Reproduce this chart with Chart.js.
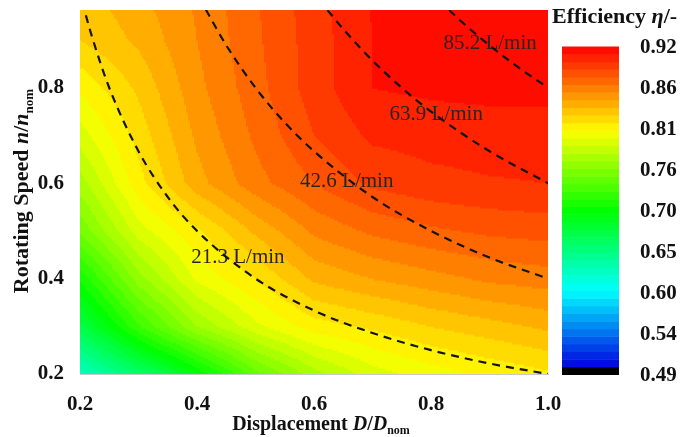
<!DOCTYPE html>
<html>
<head>
<meta charset="utf-8">
<script src="https://cdn.jsdelivr.net/npm/chart.js@4"></script>
<style>
  html, body { margin: 0; padding: 0; background: #fff; }
  #wrap { width: 684px; height: 437px; }
</style>
</head>
<body>
<div id="wrap"><canvas id="effChart" width="684" height="437"></canvas></div>
<script>
// grid axes (displacement D/Dnom, speed n/nnom)
const dispGrid = [0.2, 0.3, 0.4, 0.5, 0.6, 0.7, 0.8, 0.9, 1.0];
const speedGrid = [0.2, 0.3, 0.4, 0.5, 0.6, 0.7, 0.8, 0.9, 1.0];

// efficiency, one row per speed
const effN20 = [0.625, 0.660, 0.700, 0.745, 0.775, 0.795, 0.805, 0.812, 0.818];
const effN30 = [0.675, 0.728, 0.770, 0.797, 0.815, 0.822, 0.830, 0.836, 0.842];
const effN40 = [0.712, 0.765, 0.802, 0.820, 0.842, 0.850, 0.856, 0.862, 0.865];
const effN50 = [0.752, 0.795, 0.818, 0.842, 0.862, 0.872, 0.878, 0.882, 0.884];
const effN60 = [0.775, 0.816, 0.846, 0.866, 0.880, 0.892, 0.897, 0.899, 0.900];
const effN70 = [0.795, 0.824, 0.852, 0.872, 0.890, 0.902, 0.904, 0.905, 0.905];
const effN80 = [0.812, 0.832, 0.857, 0.876, 0.895, 0.910, 0.912, 0.913, 0.913];
const effN90 = [0.830, 0.842, 0.860, 0.878, 0.895, 0.910, 0.916, 0.919, 0.920];
const effN100 = [0.836, 0.848, 0.862, 0.879, 0.896, 0.911, 0.918, 0.920, 0.920];
const effRows = [effN20, effN30, effN40, effN50, effN60, effN70, effN80, effN90, effN100];

// constant flow lines (dashed)
const flow213D = [0.21, 0.22, 0.25, 0.3, 0.35, 0.4, 0.5, 0.6, 0.7, 0.8, 0.9, 1.0];
const flow213N = [0.952, 0.909, 0.8, 0.667, 0.571, 0.5, 0.4, 0.333, 0.286, 0.25, 0.222, 0.2];
const flow426D = [0.415, 0.45, 0.5, 0.55, 0.6, 0.7, 0.8, 0.9, 1.0];
const flow426N = [0.964, 0.889, 0.8, 0.727, 0.667, 0.571, 0.5, 0.444, 0.4];
const flow639D = [0.623, 0.65, 0.7, 0.75, 0.8, 0.9, 1.0];
const flow639N = [0.963, 0.923, 0.857, 0.8, 0.75, 0.667, 0.6];
const flow852D = [0.831, 0.85, 0.9, 0.95, 1.0];
const flow852N = [0.963, 0.941, 0.889, 0.842, 0.8];

const flowLabels = ["21.3 L/min", "42.6 L/min", "63.9 L/min", "85.2 L/min"];
const flowLabelD = [0.470, 0.656, 0.809, 0.901];
const flowLabelN = [0.445, 0.603, 0.743, 0.893];

const xTicks = [0.2, 0.4, 0.6, 0.8, 1.0];
const yTicks = [0.2, 0.4, 0.6, 0.8];
const cbarLabels = ["0.92", "0.86", "0.81", "0.76", "0.70", "0.65", "0.60", "0.54", "0.49"];
const cbarMin = 0.49;
const cbarMax = 0.92;
const bandStep = 0.01;

const SERIF = "'Liberation Serif', 'Times New Roman', serif";

// black -> blue -> cyan -> green -> yellow -> red
const cmapStops = [
  [0.50, [0, 0, 225]],
  [0.60, [0, 255, 255]],
  [0.705, [0, 255, 0]],
  [0.81, [255, 255, 0]],
  [0.92, [255, 0, 0]],
];

function cmap(v) {
  if (v < cmapStops[0][0]) return "rgb(0,0,0)";
  for (let i = 1; i < cmapStops.length; i++) {
    const [v1, c1] = cmapStops[i];
    const [v0, c0] = cmapStops[i - 1];
    if (v <= v1) {
      const t = (v - v0) / (v1 - v0);
      const c = c0.map((a, k) => Math.round(a + (c1[k] - a) * t));
      return `rgb(${c[0]},${c[1]},${c[2]})`;
    }
  }
  return "rgb(255,0,0)";
}

const nBands = Math.round((cbarMax - cbarMin) / bandStep);
function bandColor(v) {
  let k = Math.floor((v - cbarMin) / bandStep);
  k = Math.max(0, Math.min(nBands - 1, k));
  return cmap(cbarMin + (k + 0.5) * bandStep);
}

function findCell(grid, v) {
  let i = 0;
  while (i < grid.length - 2 && v > grid[i + 1]) i++;
  const t = Math.max(0, Math.min(1, (v - grid[i]) / (grid[i + 1] - grid[i])));
  return [i, t];
}

function effAt(d, n) {
  const [i, tx] = findCell(dispGrid, d);
  const [j, ty] = findCell(speedGrid, n);
  const a = effRows[j][i], b = effRows[j][i + 1];
  const c = effRows[j + 1][i], e = effRows[j + 1][i + 1];
  return (a * (1 - tx) + b * tx) * (1 - ty) + (c * (1 - tx) + e * tx) * ty;
}

function drawRich(ctx, parts, x, y, align) {
  let w = 0;
  parts.forEach((p) => { ctx.font = p.f; w += ctx.measureText(p.t).width; });
  let cx = align === "center" ? x - w / 2 : x;
  ctx.textAlign = "left";
  parts.forEach((p) => {
    ctx.font = p.f;
    ctx.fillText(p.t, cx, y + (p.dy || 0));
    cx += ctx.measureText(p.t).width;
  });
}

const fieldPlugin = {
  id: "field",
  beforeDatasetsDraw(chart) {
    const { ctx, chartArea: a, scales } = chart;
    const x = scales.x, y = scales.y;
    ctx.save();
    ctx.beginPath();
    ctx.rect(a.left, a.top, a.right - a.left, a.bottom - a.top);
    ctx.clip();
    const nx = 234, ny = 182;
    for (let i = 0; i < nx; i++) {
      const da = x.min + (x.max - x.min) * i / nx;
      const db = x.min + (x.max - x.min) * (i + 1) / nx;
      const px0 = x.getPixelForValue(da), px1 = x.getPixelForValue(db);
      for (let j = 0; j < ny; j++) {
        const na = y.min + (y.max - y.min) * j / ny;
        const nb = y.min + (y.max - y.min) * (j + 1) / ny;
        const py0 = y.getPixelForValue(nb), py1 = y.getPixelForValue(na);
        ctx.fillStyle = bandColor(effAt((da + db) / 2, (na + nb) / 2));
        ctx.fillRect(px0, py0, px1 - px0 + 0.6, py1 - py0 + 0.6);
      }
    }
    // flow labels
    ctx.fillStyle = "#262626";
    ctx.font = `21px ${SERIF}`;
    ctx.textAlign = "center";
    ctx.textBaseline = "middle";
    flowLabels.forEach((t, k) => {
      ctx.fillText(t, x.getPixelForValue(flowLabelD[k]), y.getPixelForValue(flowLabelN[k]));
    });
    ctx.restore();
  },
};

const decorPlugin = {
  id: "decor",
  afterDraw(chart) {
    const { ctx, chartArea: a } = chart;
    ctx.save();
    ctx.fillStyle = "#111";
    ctx.textBaseline = "alphabetic";
    const big = `bold 20px ${SERIF}`;
    const bigI = `italic bold 20px ${SERIF}`;
    const sub = `bold 12px ${SERIF}`;

    // x title
    drawRich(ctx, [
      { t: "Displacement ", f: big },
      { t: "D", f: bigI },
      { t: "/", f: big },
      { t: "D", f: bigI },
      { t: "nom", f: sub, dy: 4 },
    ], (a.left + a.right) / 2 + 7, 430, "center");

    // y title
    ctx.save();
    ctx.translate(28, 191);
    ctx.rotate(-Math.PI / 2);
    drawRich(ctx, [
      { t: "Rotating Speed ", f: `bold 22px ${SERIF}` },
      { t: "n", f: `italic bold 22px ${SERIF}` },
      { t: "/", f: `bold 22px ${SERIF}` },
      { t: "n", f: `italic bold 22px ${SERIF}` },
      { t: "nom", f: `bold 13px ${SERIF}`, dy: 5 },
    ], 0, 0, "center");
    ctx.restore();

    // colour bar
    const cbL = 562, cbR = 619, cbT = 47, cbB = 375;
    const h = (cbB - cbT) / nBands;
    for (let k = 0; k < nBands; k++) {
      ctx.fillStyle = cmap(cbarMin + (k + 0.5) * bandStep);
      const yb = cbB - k * h;
      ctx.fillRect(cbL, yb - h - 0.5, cbR - cbL, h + 0.5);
    }
    ctx.fillStyle = "#111";
    ctx.font = `bold 21px ${SERIF}`;
    ctx.textAlign = "left";
    ctx.textBaseline = "middle";
    cbarLabels.forEach((t, k) => {
      ctx.fillText(t, 640, cbT + k * (cbB - cbT) / (cbarLabels.length - 1) + 1);
    });
    drawRich(ctx, [
      { t: "Efficiency ", f: `bold 22px ${SERIF}` },
      { t: "\u03B7", f: `italic bold 22px ${SERIF}` },
      { t: "/-", f: `bold 22px ${SERIF}` },
    ], 552, 17, "left");
    ctx.restore();
  },
};

function pts(ds, ns) {
  return ds.map((d, i) => ({ x: d, y: ns[i] }));
}

const lineStyle = {
  showLine: true,
  borderColor: "#141414",
  borderWidth: 2.2,
  borderDash: [8, 6],
  pointRadius: 0,
  cubicInterpolationMode: "monotone",
  fill: false,
};

new Chart(document.getElementById("effChart"), {
  type: "scatter",
  data: {
    datasets: [
      { ...lineStyle, data: pts(flow213D, flow213N) },
      { ...lineStyle, data: pts(flow426D, flow426N) },
      { ...lineStyle, data: pts(flow639D, flow639N) },
      { ...lineStyle, data: pts(flow852D, flow852N) },
    ],
  },
  options: {
    responsive: false,
    animation: false,
    events: [],
    layout: { padding: { top: 10, right: 136, bottom: 0, left: 0 } },
    plugins: { legend: { display: false }, tooltip: { enabled: false } },
    scales: {
      x: {
        type: "linear",
        min: 0.2,
        max: 1.0,
        grid: { display: false },
        border: { display: true, color: "#c8c8c8", width: 1 },
        afterFit: (s) => { s.height = 63; s.paddingLeft = 0; s.paddingRight = 0; },
        afterBuildTicks: (s) => { s.ticks = xTicks.map((v) => ({ value: v })); },
        ticks: {
          color: "#111",
          padding: 10,
          font: { family: SERIF, size: 21, weight: "bold" },
          callback: (v) => Number(v).toFixed(1),
        },
      },
      y: {
        type: "linear",
        min: 0.2,
        max: 0.963,
        grid: { display: false },
        border: { display: true, color: "#c8c8c8", width: 1 },
        afterFit: (s) => { s.width = 80; s.paddingTop = 0; s.paddingBottom = 0; },
        afterBuildTicks: (s) => { s.ticks = yTicks.map((v) => ({ value: v })); },
        ticks: {
          color: "#111",
          padding: 8,
          font: { family: SERIF, size: 21, weight: "bold" },
          callback: (v) => Number(v).toFixed(1),
        },
      },
    },
  },
  plugins: [fieldPlugin, decorPlugin],
});
</script>
</body>
</html>
